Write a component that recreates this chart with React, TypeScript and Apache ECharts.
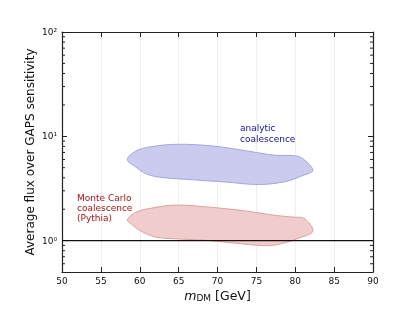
import React, { useEffect, useRef } from "react";
import * as echarts from "echarts";

// m_DM [GeV] tick values
const xTicks = [50, 55, 60, 65, 70, 75, 80, 85, 90];
// Analytic coalescence band outline: [m_DM, flux ratio]
const analyticBand: [number, number][] = [
  [58.4, 5.97], [59.5, 7.23], [61.25, 7.9], [64.7, 8.38], [69.0, 8.13],
  [72.0, 7.61], [75.4, 6.91], [77.55, 6.57], [79.9, 6.52], [81.0, 6.1],
  [82.26, 4.71], [81.0, 4.22], [78.8, 3.69], [75.4, 3.45], [71.1, 3.64],
  [66.8, 3.83], [62.5, 4.06], [60.8, 4.38], [59.5, 5.07],
];
// Monte Carlo (Pythia) coalescence band outline
const pythiaBand: [number, number][] = [
  [58.4, 1.58], [59.5, 1.87], [61.7, 2.06], [64.7, 2.19], [69.0, 2.09],
  [73.25, 1.94], [77.55, 1.74], [79.7, 1.68], [81.2, 1.62], [82.26, 1.23],
  [80.5, 1.06], [78.8, 0.96], [76.7, 0.895], [73.25, 0.929], [69.0, 1.0],
  [64.7, 1.04], [62.1, 1.08], [60.0, 1.25], [58.9, 1.45],
];
// Reference level
const unityLine: [number, number][] = [[50, 1], [90, 1]];
// Log-axis minor tick values
const minorTicks = [0.6, 0.7, 0.8, 0.9, 2, 3, 4, 5, 6, 7, 8, 9, 20, 30, 40, 50, 60, 70, 80, 90];
const supers: Record<string, string> = { "-1": "⁻¹", "0": "⁰", "1": "¹", "2": "²" };

const FONT = "DejaVu Sans";

function polygonSeries(data: [number, number][], fill: string, stroke: string) {
  return {
    type: "custom",
    coordinateSystem: "cartesian2d",
    xAxisIndex: 0,
    yAxisIndex: 0,
    data,
    renderItem: (params: any, api: any) => {
      if (params.dataIndex !== 0) return null;
      const pts = data.map((d) => api.coord(d));
      return {
        type: "polygon",
        shape: { points: pts, smooth: 0.35 },
        style: { fill, stroke, lineWidth: 1 },
      };
    },
    silent: true,
    z: 2,
  };
}

export default function App() {
  const ref = useRef<HTMLDivElement>(null);
  useEffect(() => {
    if (!ref.current) return;
    const chart = echarts.init(ref.current, null, { renderer: "svg" });
    const logFmt = (v: number) => {
      const l = Math.log10(v);
      const r = Math.round(l);
      if (Math.abs(l - r) > 1e-6) return "";
      return "10" + (supers[String(r)] ?? "");
    };
    const frame = { show: true, lineStyle: { color: "#222", width: 1.2 } };
    chart.setOption({
      animation: false,
      textStyle: { fontFamily: FONT },
      grid: { left: 62, top: 32, right: 42, bottom: 48, containLabel: false },
      xAxis: [
        {
          type: "value",
          min: 50,
          max: 90,
          interval: 5,
          position: "bottom",
          axisLine: { ...frame, onZero: false },
          axisTick: { show: true, inside: true, length: 5, lineStyle: { color: "#222" } },
          axisLabel: { color: "#111", fontSize: 9, margin: 4, fontFamily: FONT },
          splitLine: { show: true, lineStyle: { color: "#efefef", width: 1 } },
          name: "{i|m}{s|DM} [GeV]",
          nameLocation: "middle",
          nameGap: 16,
          nameMoveOverlap: false,
          nameTextStyle: {
            rich: {
              i: { fontStyle: "italic", fontSize: 12.5, fontFamily: FONT, color: "#111" },
              s: { fontSize: 9, fontFamily: FONT, color: "#111", verticalAlign: "bottom", padding: [5, 0, 0, 0] },
            },
            fontSize: 12.5,
            color: "#111",
            fontFamily: FONT,
          },
        },
        {
          type: "value",
          min: 50,
          max: 90,
          interval: 5,
          position: "top",
          axisLine: { ...frame, onZero: false },
          axisTick: { show: true, inside: true, length: 5, lineStyle: { color: "#222" } },
          axisLabel: { show: false },
          splitLine: { show: false },
        },
      ],
      yAxis: [
        {
          type: "log",
          logBase: 10,
          min: 0.5,
          max: 100,
          position: "left",
          axisLine: { ...frame, onZero: false },
          axisTick: { show: true, inside: true, length: 5, lineStyle: { color: "#222" } },
          axisLabel: { formatter: logFmt, color: "#111", fontSize: 9, margin: 5, fontFamily: FONT },
          splitLine: { show: false },
          name: "Average flux over GAPS sensitivity",
          nameLocation: "middle",
          nameGap: 26,
          nameMoveOverlap: false,
          nameRotate: 90,
          nameTextStyle: { fontSize: 12, color: "#111", fontFamily: FONT },
        },
        {
          type: "log",
          logBase: 10,
          min: 0.5,
          max: 100,
          position: "right",
          axisLine: { ...frame, onZero: false },
          axisTick: { show: true, inside: true, length: 5, lineStyle: { color: "#222" } },
          axisLabel: { show: false },
          splitLine: { show: false },
        },
      ],
      series: [
        polygonSeries(analyticBand, "rgba(203,203,239,1)", "rgba(165,165,225,1)"),
        polygonSeries(pythiaBand, "rgba(240,204,204,1)", "rgba(225,160,160,1)"),
        {
          type: "line",
          data: unityLine,
          symbol: "none",
          lineStyle: { color: "#111", width: 1.2 },
          silent: true,
          z: 3,
        },
        {
          type: "custom",
          coordinateSystem: "cartesian2d",
          data: minorTicks.map((v) => [50, v]),
          renderItem: (params: any, api: any) => {
            const v = api.value(1);
            const l = api.coord([50, v]);
            const r = api.coord([90, v]);
            return {
              type: "group",
              children: [
                { type: "line", shape: { x1: l[0], y1: l[1], x2: l[0] + 3, y2: l[1] }, style: { stroke: "#222", lineWidth: 1 } },
                { type: "line", shape: { x1: r[0] - 3, y1: r[1], x2: r[0], y2: r[1] }, style: { stroke: "#222", lineWidth: 1 } },
              ],
            };
          },
          silent: true,
          z: 4,
        },
      ],
      graphic: [
        {
          type: "text",
          left: 240,
          top: 123,
          style: {
            text: "analytic\ncoalescence",
            fill: "#0d0dcc",
            font: `9px "${FONT}"`,
            lineHeight: 10.5,
          },
          z: 10,
        },
        {
          type: "text",
          left: 77,
          top: 193,
          style: {
            text: "Monte Carlo\ncoalescence\n(Pythia)",
            fill: "#c40d0d",
            font: `9px "${FONT}"`,
            lineHeight: 10,
          },
          z: 10,
        },
      ],
    });
    return () => chart.dispose();
  }, []);
  return <div ref={ref} style={{ position: "fixed", left: 0, top: 0, width: 415, height: 320 }} />;
}
